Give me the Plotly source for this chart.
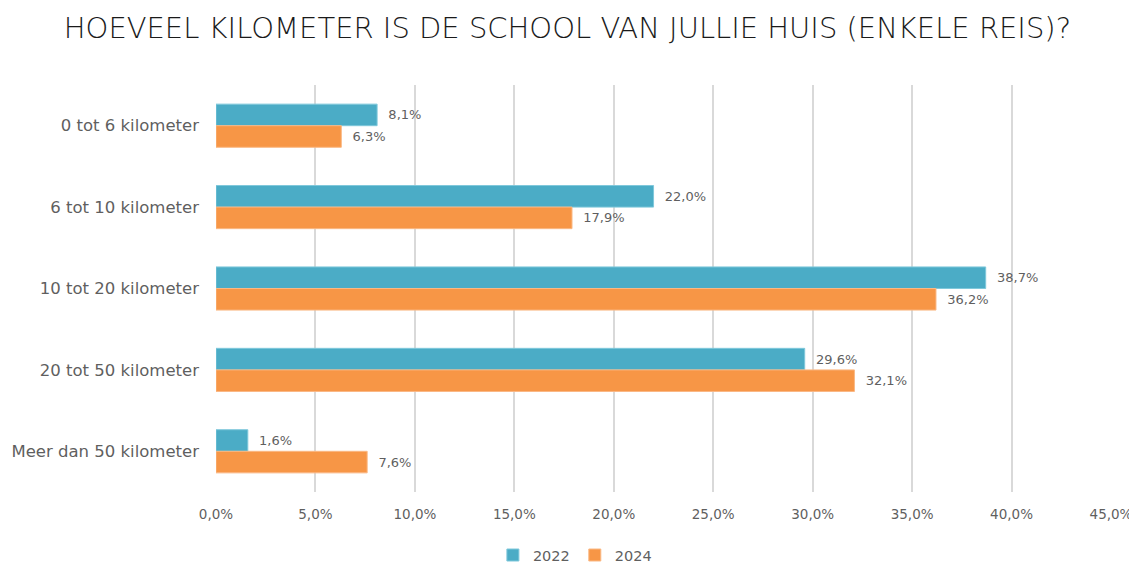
import plotly.graph_objects as go

categories = ["0 tot 6 kilometer", "6 tot 10 kilometer", "10 tot 20 kilometer",
              "20 tot 50 kilometer", "Meer dan 50 kilometer"]
values_2022 = [8.1, 22.0, 38.7, 29.6, 1.6]
values_2024 = [6.3, 17.9, 36.2, 32.1, 7.6]
tick_vals = [0, 5, 10, 15, 20, 25, 30, 35, 40, 45]
tick_text = ["0,0%", "5,0%", "10,0%", "15,0%", "20,0%", "25,0%", "30,0%", "35,0%", "40,0%", "45,0%"]

def fmt(v):
    return "\u00a0\u00a0" + f"{v:.1f}".replace(".", ",") + "%"

FONT = "'DejaVu Sans', sans-serif"
GRAY = "#5f5f5f"
fig = go.Figure()
fig.add_trace(go.Bar(
    y=categories, x=values_2022, orientation="h", name="2022",
    marker=dict(color="#4BACC6", line=dict(color="#7FC8DB", width=1)),
    text=[fmt(v) for v in values_2022], textposition="outside",
    textfont=dict(color=GRAY, size=13, family=FONT), cliponaxis=False,
))
fig.add_trace(go.Bar(
    y=categories, x=values_2024, orientation="h", name="2024",
    marker=dict(color="#F79646", line=dict(color="#FAB884", width=1)),
    text=[fmt(v) for v in values_2024], textposition="outside",
    textfont=dict(color=GRAY, size=13, family=FONT), cliponaxis=False,
))
fig.update_layout(
    width=1137, height=563,
    paper_bgcolor="white", plot_bgcolor="white",
    margin=dict(l=208, r=34, t=77, b=79, autoexpand=False),
    barmode="group", bargap=0.47, bargroupgap=0,
    title=dict(text="HOEVEEL KILOMETER IS DE SCHOOL VAN JULLIE HUIS (ENKELE REIS)?",
               x=0.492, xanchor="center", y=0.964, yanchor="middle",
               font=dict(family=FONT, size=29, color="#1a1a1a", weight=300)),
    font=dict(family=FONT, color=GRAY, size=14),
    xaxis=dict(range=[0, 45], tickvals=tick_vals, ticktext=tick_text, automargin=False,
               showgrid=True, gridcolor="#D9D9D9", gridwidth=1.5, zeroline=False,
               showline=False, ticks="", tickfont=dict(size=13.5, color=GRAY),
               ticklabelstandoff=12),
    yaxis=dict(autorange="reversed", showgrid=False, showline=False, ticks="", automargin=False,
               tickfont=dict(size=16.5, color=GRAY), ticklabelstandoff=16),
    legend=dict(orientation="h", x=0.401, xanchor="center", y=-0.155, yanchor="middle",
                font=dict(size=14.5, color=GRAY), traceorder="normal", itemwidth=30),
)
fig.write_html("out.html")
